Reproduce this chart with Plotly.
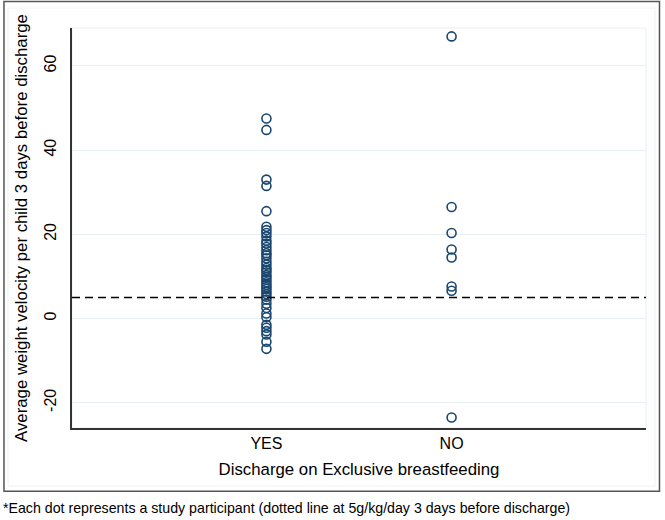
import plotly.graph_objects as go

categories = ["YES", "NO"]
cat_positions = [1, 2]

yes_values = [47.5, 44.8, 33.0, 31.5, 25.5, 21.8, 21.0, 20.3, 19.5, 18.5, 17.8, 17.0,
              16.2, 15.5, 15.0, 14.3, 13.5, 12.8, 12.0, 11.5, 11.0, 10.3, 9.8, 9.2,
              8.6, 8.0, 7.5, 7.0, 6.4, 5.8, 5.2, 4.5, 3.5, 2.5, 1.2, 0.3, -1.5,
              -2.2, -3.0, -3.8, -5.5, -7.2]
no_values = [67.0, 26.5, 20.3, 16.4, 14.5, 7.6, 6.6, -23.5]

threshold = 5
y_ticks = [-20, 0, 20, 40, 60]
y_tick_labels = ["-20", "0", "20", "40", "60"]

FONT = "Liberation Sans, Arial, sans-serif"
NAVY = "#1a476f"

xs = [cat_positions[0]] * len(yes_values) + [cat_positions[1]] * len(no_values)
ys = yes_values + no_values

fig = go.Figure()
fig.add_trace(go.Scatter(
    x=xs, y=ys, mode="markers",
    marker=dict(symbol="circle-open", size=9, color=NAVY, line=dict(width=1.6, color=NAVY)),
    showlegend=False, hoverinfo="skip"))

fig.add_shape(type="line", xref="paper", yref="y", x0=0, x1=1, y0=threshold, y1=threshold,
              line=dict(color="black", width=1.6, dash="8px,5px"))

# outer frames
fig.add_shape(type="rect", xref="paper", yref="paper", x0=-0.1185, x1=1.0235, y0=-0.158, y1=1.066,
              line=dict(color="#555555", width=1.5), layer="below")
fig.add_shape(type="rect", xref="paper", yref="paper", x0=-0.1115, x1=1.0155, y0=-0.145, y1=1.05,
              line=dict(color="#eef2f3", width=1), layer="below")
# plot region light border (top/right)
fig.add_shape(type="rect", xref="paper", yref="paper", x0=0, x1=1, y0=0, y1=1,
              line=dict(color="#eaf0f1", width=1), layer="below")

fig.update_layout(
    width=665, height=520,
    margin=dict(l=72, r=19, t=28, b=92, autoexpand=False),
    paper_bgcolor="white", plot_bgcolor="white",
    font=dict(family=FONT, color="black", size=16),
    xaxis=dict(range=[-0.05, 3.05], tickvals=cat_positions, ticktext=categories,
               showgrid=False, zeroline=False, showline=True, linecolor="#333333", linewidth=1.5,
               ticks="", tickfont=dict(size=16), automargin=False,
               title=dict(text="Discharge on Exclusive breastfeeding", font=dict(size=16.8), standoff=12)),
    yaxis=dict(range=[-26, 69], tickvals=y_ticks, ticktext=y_tick_labels, tickangle=-90,
               showgrid=True, gridcolor="#e6eff1", gridwidth=1, zeroline=False,
               showline=True, linecolor="#333333", linewidth=1.5, automargin=False,
               ticks="outside", ticklen=8, tickcolor="white", tickfont=dict(size=16),
               title=dict(text="Average weight velocity per child 3 days before discharge",
                          font=dict(size=16.8), standoff=10)),
)

fig.add_annotation(text="*Each dot represents a study participant (dotted line at 5g/kg/day 3 days before discharge)",
                   xref="paper", yref="paper", x=-0.124, y=-0.2, xanchor="left", yanchor="middle",
                   showarrow=False, font=dict(size=14.2, family=FONT, color="black"))

fig.write_html("out.html", config={"displayModeBar": False},
               post_script="document.body.style.margin='0';")
